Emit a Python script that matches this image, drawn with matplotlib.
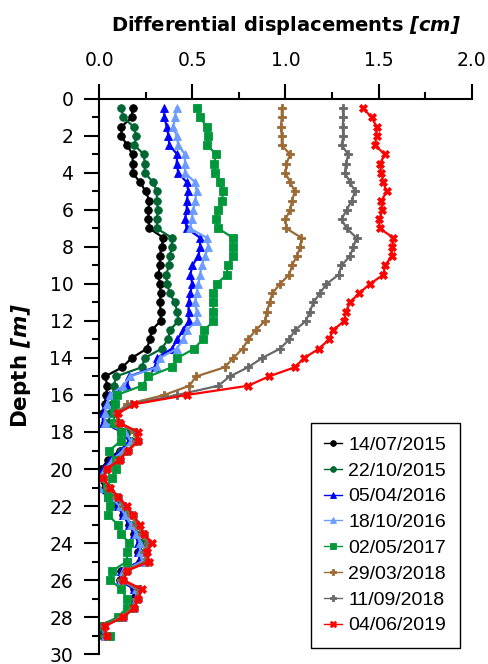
import numpy as np
import matplotlib
matplotlib.use('Agg')
import matplotlib.pyplot as plt
from matplotlib.ticker import MultipleLocator

plt.rcParams['font.family'] = ['DejaVu Sans']
plt.rcParams['mathtext.fontset'] = 'custom'
plt.rcParams['mathtext.bfit'] = 'DejaVu Sans:bold:italic'
plt.rcParams['mathtext.it'] = 'DejaVu Sans:italic'
plt.rcParams['mathtext.rm'] = 'DejaVu Sans'

# depth of each reading [m]
depth = np.arange(0.5, 29.01, 0.5)

# differential displacements [cm], top (0.5 m) to bottom (29 m)
d_20150714 = [0.18, 0.175, 0.12, 0.12, 0.15, 0.18, 0.18, 0.18, 0.22, 0.25, 0.27, 0.265, 0.265, 0.27, 0.345, 0.335, 0.325,
              0.327, 0.318, 0.327, 0.33, 0.327, 0.33, 0.33, 0.282, 0.273, 0.256, 0.175, 0.125, 0.032, 0.045, 0.037, 0.03, 0.02,
              0.03, 0.12, 0.17, 0.11, 0.05, 0.01, 0.0, 0.03, 0.07, 0.10, 0.13, 0.16, 0.19, 0.22, 0.21, 0.22,
              0.12, 0.11, 0.19, 0.18, 0.17, 0.12, -0.015, 0.02]
d_20151022 = [0.12, 0.13, 0.185, 0.2, 0.19, 0.24, 0.245, 0.245, 0.29, 0.31, 0.31, 0.315, 0.31, 0.31, 0.39, 0.39, 0.38,
              0.375, 0.36, 0.365, 0.38, 0.405, 0.42, 0.425, 0.38, 0.37, 0.335, 0.245, 0.23, 0.09, 0.08, 0.075, 0.07, 0.06,
              0.05, 0.15, 0.17, 0.12, 0.07, 0.03, 0.02, 0.04, 0.08, 0.11, 0.14, 0.17, 0.20, 0.23, 0.22, 0.23,
              0.13, 0.12, 0.20, 0.20, 0.19, 0.13, 0.0, 0.02]
d_20160405 = [0.35, 0.35, 0.363, 0.372, 0.377, 0.42, 0.416, 0.425, 0.47, 0.479, 0.47, 0.47, 0.461, 0.47, 0.542, 0.542, 0.533,
              0.50, 0.49, 0.50, 0.49, 0.48, 0.48, 0.48, 0.45, 0.42, 0.39, 0.31, 0.30, 0.16, 0.15, 0.055, 0.035, 0.02,
              0.02, 0.13, 0.16, 0.12, 0.06, 0.02, -0.01, -0.015, 0.05, 0.10, 0.13, 0.16, 0.19, 0.21, 0.21, 0.22,
              0.12, 0.11, 0.19, 0.19, 0.18, 0.12, 0.0, 0.03]
d_20161018 = [0.416, 0.407, 0.398, 0.416, 0.425, 0.461, 0.461, 0.461, 0.515, 0.524, 0.515, 0.506, 0.497, 0.488, 0.577, 0.586, 0.568,
              0.55, 0.542, 0.533, 0.524, 0.515, 0.524, 0.524, 0.47, 0.452, 0.416, 0.327, 0.309, 0.166, 0.13, 0.059, 0.041, 0.03,
              0.03, 0.14, 0.17, 0.13, 0.07, 0.03, 0.0, 0.0, 0.06, 0.11, 0.14, 0.17, 0.20, 0.22, 0.22, 0.23,
              0.13, 0.12, 0.20, 0.20, 0.19, 0.13, 0.01, 0.03]
d_20170502 = [0.527, 0.542, 0.577, 0.586, 0.581, 0.627, 0.617, 0.622, 0.649, 0.667, 0.658, 0.64, 0.627, 0.64, 0.717, 0.717, 0.72,
              0.69, 0.685, 0.63, 0.613, 0.613, 0.613, 0.613, 0.565, 0.555, 0.51, 0.42, 0.39, 0.265, 0.23, 0.095, 0.086, 0.08,
              0.08, 0.12, 0.115, 0.055, 0.09, 0.09, 0.07, 0.04, 0.05, 0.06, 0.05, 0.10, 0.12, 0.16, 0.15, 0.15,
              0.07, 0.06, 0.12, 0.15, 0.15, 0.10, 0.005, 0.06]
d_20180329 = [0.98, 0.98, 0.975, 0.98, 0.98, 1.025, 1.005, 1.0, 1.025, 1.05, 1.035, 1.025, 1.0, 1.005, 1.085, 1.08, 1.06,
              1.035, 1.02, 0.97, 0.93, 0.915, 0.9, 0.89, 0.84, 0.80, 0.77, 0.72, 0.675, 0.52, 0.485, 0.35, 0.15, 0.09,
              0.10, 0.19, 0.20, 0.15, 0.10, 0.04, 0.02, 0.05, 0.09, 0.13, 0.17, 0.20, 0.23, 0.26, 0.24, 0.25,
              0.14, 0.12, 0.21, 0.20, 0.18, 0.12, 0.02, 0.03]
d_20180911 = [1.307, 1.31, 1.307, 1.31, 1.301, 1.337, 1.324, 1.319, 1.346, 1.373, 1.355, 1.328, 1.301, 1.328, 1.381, 1.364, 1.346,
              1.30, 1.285, 1.22, 1.185, 1.15, 1.13, 1.11, 1.05, 1.02, 0.97, 0.875, 0.80, 0.70, 0.64, 0.42, 0.17, 0.09,
              0.11, 0.20, 0.21, 0.155, 0.11, 0.04, 0.02, 0.055, 0.10, 0.14, 0.18, 0.21, 0.24, 0.27, 0.25, 0.26,
              0.15, 0.13, 0.22, 0.21, 0.19, 0.13, 0.025, 0.035]
d_20190604 = [1.417, 1.462, 1.489, 1.489, 1.48, 1.533, 1.506, 1.515, 1.524, 1.542, 1.515, 1.52, 1.503, 1.506, 1.578, 1.574, 1.569,
              1.535, 1.525, 1.453, 1.395, 1.346, 1.324, 1.315, 1.255, 1.233, 1.18, 1.10, 1.05, 0.91, 0.80, 0.47, 0.19, 0.10,
              0.11, 0.21, 0.21, 0.157, 0.112, 0.041, 0.023, 0.059, 0.104, 0.148, 0.184, 0.22, 0.24, 0.285, 0.255, 0.27,
              0.15, 0.13, 0.23, 0.21, 0.19, 0.13, 0.03, 0.04]

dates = ['14/07/2015', '22/10/2015', '05/04/2016', '18/10/2016',
         '02/05/2017', '29/03/2018', '11/09/2018', '04/06/2019']
series = [d_20150714, d_20151022, d_20160405, d_20161018,
          d_20170502, d_20180329, d_20180911, d_20190604]
colors = ['#000000', '#006633', '#0000ff', '#6c9cff',
          '#00983a', '#9c6a35', '#696969', '#ff0000']
markers = ['o', 'o', '^', '^', 's', 'P', 'P', 'X']
msizes = [5.5, 5.5, 5.5, 5.5, 5.5, 6, 6, 6]

fig = plt.figure(figsize=(4.88, 6.64), dpi=100)
ax = fig.add_axes([0.203, 0.015, 0.764, 0.836])

for vals, lab, c, m, ms in zip(series, dates, colors, markers, msizes):
    ax.plot(vals, depth, color=c, marker=m, markersize=ms, lw=1.6,
            markeredgewidth=0.6, label=lab)

ax.set_xlim(0, 2)
ax.set_ylim(30, 0)
ax.xaxis.set_major_locator(MultipleLocator(0.5))
ax.xaxis.set_minor_locator(MultipleLocator(0.25))
ax.yaxis.set_major_locator(MultipleLocator(2))
ax.yaxis.set_minor_locator(MultipleLocator(1))
ax.xaxis.set_major_formatter(plt.FormatStrFormatter('%.1f'))
ax.xaxis.tick_top()
ax.xaxis.set_label_position('top')
ax.spines['bottom'].set_visible(False)
ax.spines['right'].set_visible(False)
ax.spines['top'].set_linewidth(1.5)
ax.spines['left'].set_linewidth(1.5)
ax.tick_params(which='major', length=10.5, width=1.5, labelsize=13.5)
ax.tick_params(axis='x', which='major', pad=10)
ax.tick_params(axis='y', which='major', pad=8)
ax.tick_params(which='minor', length=5, width=1.5)

ax.set_xlabel('Differential displacements $\\mathbfit{[cm]}$', fontsize=14,
              fontweight='bold', labelpad=15)
ax.set_ylabel('Depth $\\mathbfit{[m]}$', fontsize=15.5, fontweight='bold')
ax.yaxis.set_label_coords(-0.178, 0.52)

leg = ax.legend(loc='lower right', bbox_to_anchor=(0.968, 0.011),
                borderaxespad=0, prop={'family': 'Liberation Sans', 'size': 14},
                handlelength=0.9, markerscale=0.75, fancybox=False,
                edgecolor='black', framealpha=1, borderpad=0.7,
                labelspacing=0.42, handletextpad=0.35)
leg.get_frame().set_linewidth(1.0)
for h in leg.legend_handles:
    h.set_linewidth(1.0)

fig.savefig('out.png', dpi=100)
